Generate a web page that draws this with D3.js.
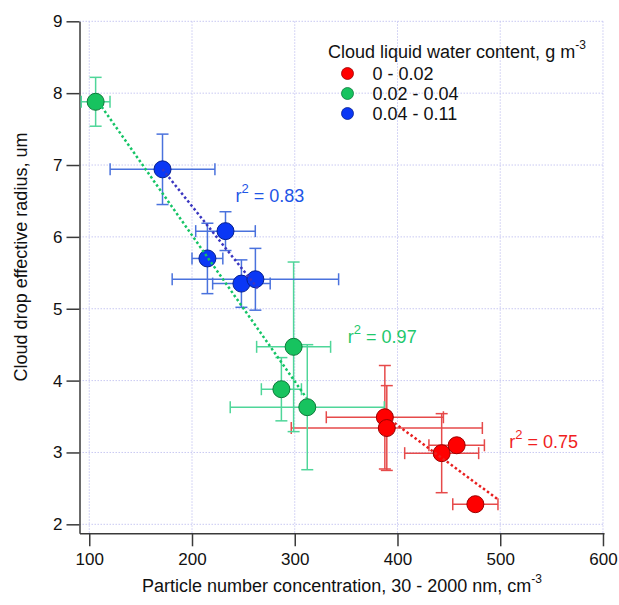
<!DOCTYPE html>
<html><head><meta charset="utf-8">
<script src="https://cdn.jsdelivr.net/npm/d3@7"></script>
<style>
html,body{margin:0;padding:0;background:#fff;}
svg{display:block;font-family:"Liberation Sans",Arial,Helvetica,sans-serif;}
</style></head>
<body><svg id="chart" width="619" height="605"></svg>
<script>
// ---------- data ----------
const seriesNames = ["0 - 0.02", "0.02 - 0.04", "0.04 - 0.11"];

const redX    = [387.7, 389.6, 443.0, 457.6, 475.8];
const redY    = [3.49, 3.34, 2.99, 3.10, 2.28];
const redXErr = [57, 93, 36, 27, 22];
const redYErr = [0.72, 0.59, 0.55, 0.05, 0.05];

const greenX    = [106.2, 298.9, 287.0, 312.2];
const greenY    = [7.88, 4.47, 3.88, 3.63];
const greenXErr = [14, 36, 19.5, 75];
const greenYErr = [0.34, 1.18, 0.44, 0.87];

const blueX    = [171.3, 232.6, 215.0, 248.1, 261.7];
const blueY    = [6.94, 6.08, 5.70, 5.35, 5.41];
const blueXErr = [51, 29, 15, 28, 81];
const blueYErr = [0.49, 0.27, 0.49, 0.33, 0.43];

// fitted line end points (x, y) per series
const redFitX = [397.1, 498.4],   redFitY = [3.41, 2.34];
const greenFitX = [112.1, 311.3], greenFitY = [7.81, 3.76];
const blueFitX = [171.3, 264.2],  blueFitY = [6.94, 5.28];

const r2Values = ["0.75", "0.97", "0.83"];

const xTicks = [100, 200, 300, 400, 500, 600];
const yTicks = [2, 3, 4, 5, 6, 7, 8, 9];

// ---------- layout / style ----------
const svg = d3.select("#chart");
const L = 79.5, R = 604, T = 21.3, B = 533.3;
const x = d3.scaleLinear().domain([90.5, 601]).range([L, R]);
const y = d3.scaleLinear().domain([1.875, 9]).range([B, T]);

const styles = [
  {fill:"#ff0000", stroke:"#9a0000", err:"#e64a4a", fit:"#e82020", text:"#f01e1e", label:[508.8, 3.06]},
  {fill:"#17c35f", stroke:"#0d7a3a", err:"#4fd699", fit:"#15c466", text:"#1ec86c", label:[351.7, 4.52]},
  {fill:"#0a37f5", stroke:"#06208f", err:"#4a72dd", fit:"#3a36c0", text:"#1e55e6", label:[242.3, 6.48]}
];

const series = [
  {x:redX, y:redY, xe:redXErr, ye:redYErr, fx:redFitX, fy:redFitY},
  {x:greenX, y:greenY, xe:greenXErr, ye:greenYErr, fx:greenFitX, fy:greenFitY},
  {x:blueX, y:blueY, xe:blueXErr, ye:blueYErr, fx:blueFitX, fy:blueFitY}
];

// grid
const grid = svg.append("g").attr("stroke", "#c9c9f2").attr("stroke-width", 1).attr("stroke-dasharray", "1.5,1.5");
xTicks.forEach(t => grid.append("line").attr("x1", x(t)).attr("x2", x(t)).attr("y1", T).attr("y2", B));
yTicks.forEach(t => grid.append("line").attr("x1", L).attr("x2", R).attr("y1", y(t)).attr("y2", y(t)));

// axes
const xAxis = svg.append("g").attr("transform", `translate(0,${B})`)
  .call(d3.axisBottom(x).tickValues(xTicks).tickSize(13).tickSizeOuter(0).tickPadding(7));
const yAxis = svg.append("g").attr("transform", `translate(${L},0)`)
  .call(d3.axisLeft(y).tickValues(yTicks).tickSize(13).tickSizeOuter(0).tickPadding(4));
[xAxis, yAxis].forEach(a => {
  a.selectAll("path,line").attr("stroke", "#3a3a3a").attr("stroke-width", 1.5);
  a.selectAll("text").attr("font-size", 17).attr("fill", "#111").attr("font-family", "Liberation Sans, Arial, sans-serif");
});

// axis titles
const xt = svg.append("text").attr("x", 342).attr("y", 592).attr("text-anchor", "middle")
  .attr("font-size", 18).attr("fill", "#111");
xt.append("tspan").text("Particle number concentration, 30 - 2000 nm, cm");
xt.append("tspan").attr("font-size", 12).attr("dy", -9).text("-3");

svg.append("text").attr("transform", "translate(27,257) rotate(-90)").attr("text-anchor", "middle")
  .attr("font-size", 18).attr("fill", "#111").text("Cloud drop effective radius, um");

// error bars
const cap = 6;
series.forEach((s, k) => {
  const g = svg.append("g").attr("stroke", styles[k].err).attr("stroke-width", 1.5).attr("fill", "none");
  s.x.forEach((xv, i) => {
    const yv = s.y[i], xe = s.xe[i], ye = s.ye[i];
    const cx = x(xv), cy = y(yv);
    const x0 = x(xv - xe), x1 = x(xv + xe), y0 = y(yv - ye), y1 = y(yv + ye);
    g.append("line").attr("x1", Math.max(x0, L)).attr("x2", x1).attr("y1", cy).attr("y2", cy);
    if (x0 >= L) g.append("line").attr("x1", x0).attr("x2", x0).attr("y1", cy - cap).attr("y2", cy + cap);
    g.append("line").attr("x1", x1).attr("x2", x1).attr("y1", cy - cap).attr("y2", cy + cap);
    g.append("line").attr("x1", cx).attr("x2", cx).attr("y1", y0).attr("y2", y1);
    g.append("line").attr("x1", cx - cap).attr("x2", cx + cap).attr("y1", y0).attr("y2", y0);
    g.append("line").attr("x1", cx - cap).attr("x2", cx + cap).attr("y1", y1).attr("y2", y1);
  });
});

// markers
series.forEach((s, k) => {
  svg.append("g").selectAll("circle").data(s.x).join("circle")
    .attr("cx", d => x(d)).attr("cy", (d, i) => y(s.y[i])).attr("r", 8.5)
    .attr("fill", styles[k].fill).attr("stroke", styles[k].stroke).attr("stroke-width", 1);
});

// fit lines
const line = d3.line().x(d => x(d[0])).y(d => y(d[1]));
series.forEach((s, k) => {
  svg.append("path").datum(s.fx.map((v, i) => [v, s.fy[i]])).attr("d", line)
    .attr("fill", "none").attr("stroke", styles[k].fit).attr("stroke-width", 2.5)
    .attr("stroke-dasharray", "2.5,2.5");
});

// r^2 labels
series.forEach((s, k) => {
  const t = svg.append("text").attr("x", x(styles[k].label[0])).attr("y", y(styles[k].label[1]))
    .attr("font-size", 18).attr("fill", styles[k].text);
  t.append("tspan").text("r");
  t.append("tspan").attr("font-size", 13).attr("dy", -9).text("2");
  t.append("tspan").attr("dy", 9).text(" = " + r2Values[k]);
});

// legend
const lg = svg.append("g");
const lt = lg.append("text").attr("x", 328).attr("y", 58).attr("font-size", 18).attr("fill", "#111");
lt.append("tspan").text("Cloud liquid water content, g m");
lt.append("tspan").attr("font-size", 12).attr("dy", -9).text("-3");
seriesNames.forEach((n, k) => {
  const yy = 73.5 + k * 20;
  lg.append("circle").attr("cx", 347.5).attr("cy", yy).attr("r", 6)
    .attr("fill", styles[k].fill).attr("stroke", styles[k].stroke).attr("stroke-width", 0.8);
  lg.append("text").attr("x", 372.5).attr("y", yy + 6).attr("font-size", 18).attr("fill", "#111").text(n);
});
</script>
</body></html>
